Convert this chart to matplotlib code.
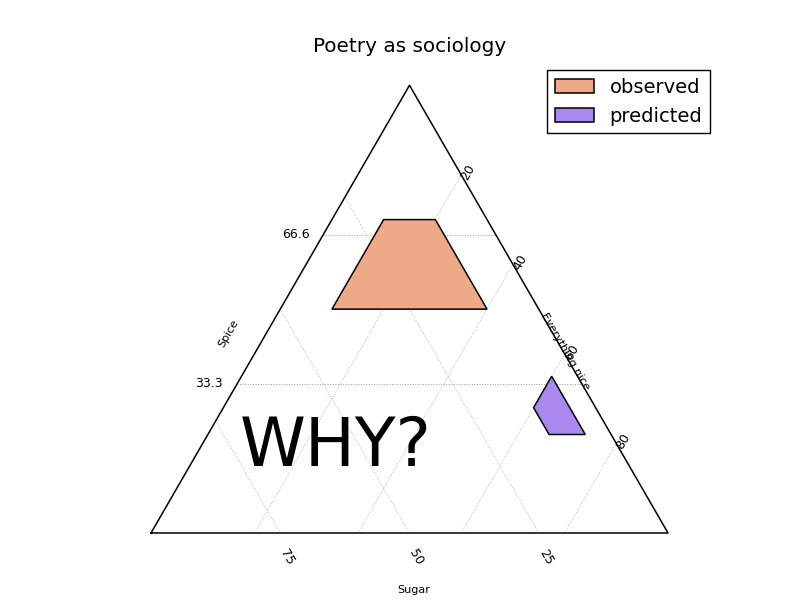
import numpy as np
import matplotlib
matplotlib.use('Agg')
import matplotlib.pyplot as plt

# Ternary compositions (sugar, spice, everything nice) of each polygon corner
observed_sugar = [0.2, 0.1, 0.1, 0.4]
observed_spice = [0.7, 0.7, 0.5, 0.5]
observed_nice = [0.1, 0.2, 0.4, 0.1]

predicted_sugar = [0.05, 0.12, 0.12, 0.05]
predicted_spice = [0.35, 0.28, 0.22, 0.22]
predicted_nice = [0.6, 0.6, 0.66, 0.73]

spice_ticks = [1 / 3, 2 / 3]
spice_labels = ['33.3', '66.6']
sugar_ticks = [0.75, 0.5, 0.25]
sugar_labels = ['75', '50', '25']
nice_ticks = [0.2, 0.4, 0.6, 0.8]
nice_labels = ['20', '40', '60', '80']

H = np.sqrt(3) / 2
PX = 1 / 517.0  # one pixel in data units


def to_xy(sugar, spice, nice):
    """ Convert ternary composition to cartesian coordinates. """
    spice = np.asarray(spice, dtype=float)
    nice = np.asarray(nice, dtype=float)
    return nice + spice / 2, spice * H


fig = plt.figure(figsize=(8, 6), dpi=100)
ax = fig.add_axes([0, 0, 1, 1])
ax.set_xlim(-151 * PX, 649 * PX)
ax.set_ylim(-67 * PX, 533 * PX)
ax.axis('off')

# grid lines
for s in spice_ticks:
    x, y = to_xy([1 - s, 0], [s, s], [0, 1 - s])
    ax.plot(x, y, ls=':', color='#999999', lw=0.7, zorder=1)
for a in sugar_ticks:
    x, y = to_xy([a, a], [1 - a, 0], [0, 1 - a])
    ax.plot(x, y, ls=':', color='#bbbbbb', lw=0.7, zorder=1)
for n in nice_ticks:
    x, y = to_xy([1 - n, 0], [0, 1 - n], [n, n])
    ax.plot(x, y, ls=':', color='#bbbbbb', lw=0.7, zorder=1)

# triangle outline
x, y = to_xy([1, 0, 0, 1], [0, 0, 1, 0], [0, 1, 0, 0])
ax.plot(x, y, color='black', lw=1.1, zorder=3)

# polygons
x, y = to_xy(observed_sugar, observed_spice, observed_nice)
ax.fill(x, y, facecolor='#eeaa88', edgecolor='black', lw=1.1,
        label='observed', zorder=2)
x, y = to_xy(predicted_sugar, predicted_spice, predicted_nice)
ax.fill(x, y, facecolor='#aa88ee', edgecolor='black', lw=1.1,
        label='predicted', zorder=2)

# tick labels
for s, lab in zip(spice_ticks, spice_labels):
    x, y = to_xy(1 - s, s, 0)
    ax.text(x - 14 * PX, y, lab, ha='right', va='center', fontsize=9)
for a, lab in zip(sugar_ticks, sugar_labels):
    x, y = to_xy(a, 0, 1 - a)
    ax.text(x + 7 * PX, y - 24 * PX, lab, ha='center', va='center',
            rotation=-60, fontsize=9)
for n, lab in zip(nice_ticks, nice_labels):
    x, y = to_xy(0, 1 - n, n)
    ax.text(x + 7 * PX, y + 2 * PX, lab, ha='center', va='center',
            rotation=60, fontsize=9)

# axis labels
x, y = to_xy(0.5, 0.0, 0.5)
ax.text(x + 4 * PX, y - 57 * PX, 'Sugar', ha='center', va='center', fontsize=8)
x, y = to_xy(0.555, 0.445, 0.0)
ax.text(x - 38 * PX, y, 'Spice', ha='center', va='center',
        rotation=60, fontsize=8)
x, y = to_xy(0.0, 0.405, 0.595)
ax.text(x + 2 * PX, y, 'Everything nice', ha='center', va='center',
        rotation=-60, fontsize=8)

ax.text(336 * PX - 151 * PX, (533 - 447) * PX, 'WHY?', ha='center',
        va='center', fontsize=48)

fig.text(410 / 800, 1 - 47 / 600, 'Poetry as sociology', ha='center',
         va='center', fontsize=14.4)

leg = ax.legend(loc='upper right', bbox_to_anchor=(710 / 800, 530 / 600),
                bbox_transform=fig.transFigure, fancybox=False,
                framealpha=1, edgecolor='black', fontsize=14,
                borderaxespad=0)
leg.get_frame().set_linewidth(1.0)

fig.savefig('out.png', dpi=100)
